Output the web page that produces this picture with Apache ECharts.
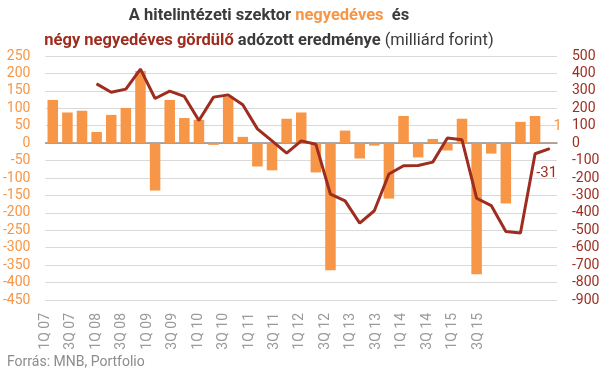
<!DOCTYPE html>
<html>
<head>
<meta charset="utf-8">
<script src="https://cdn.jsdelivr.net/npm/echarts@6/dist/echarts.min.js"></script>
<style>
  html, body { margin: 0; padding: 0; background: #fff; }
  #chart { width: 604px; height: 375px; }
</style>
</head>
<body>
<div id="chart"></div>
<script>
var quarters = ['1Q07','2Q07','3Q07','4Q07','1Q08','2Q08','3Q08','4Q08','1Q09','2Q09','3Q09','4Q09',
  '1Q10','2Q10','3Q10','4Q10','1Q11','2Q11','3Q11','4Q11','1Q12','2Q12','3Q12','4Q12',
  '1Q13','2Q13','3Q13','4Q13','1Q14','2Q14','3Q14','4Q14','1Q15','2Q15','3Q15'];
// negyedéves eredmény (bal tengely)
var quarterly = [124, 88, 93, 32, 81, 101, 207, -136, 124, 72, 67, -5,
  134, 18, -67, -78, 70, 88, -84, -365, 36, -44, -7, -159,
  78, -41, 12, -21, 70, -376, -30, -173, 61, 78, 1];
// négy negyedéves gördülő (jobb tengely)
var rolling = [null, null, null, 340, 292, 310, 425, 256, 298, 268, 130, 264,
  277, 220, 82, 13, -57, 13, -6, -293, -331, -459, -388, -177,
  -130, -128, -109, 30, 19, -316, -358, -507, -516, -61, -31];
var tickLabels = ['1Q 07','3Q 07','1Q 08','3Q 08','1Q 09','3Q 09','1Q 10','3Q 10','1Q 11',
  '3Q 11','1Q 12','3Q 12','1Q 13','3Q 13','1Q 14','3Q 14','1Q 15','3Q 15'];

var orange = '#F79646';
var darkRed = '#9E2D1F';
var font = "Roboto, sans-serif";

var chart = echarts.init(document.getElementById('chart'), null, { renderer: 'canvas' });

var barData = quarterly.map(function (v, i) {
  if (i === quarterly.length - 1) {
    return { value: v, label: { show: true, position: 'top', offset: [8, -4], color: orange, fontSize: 15, fontFamily: font } };
  }
  return v;
});
var lineData = rolling.map(function (v, i) {
  if (i === rolling.length - 1) {
    return { value: v, label: { show: true, position: 'bottom', offset: [-3, 12], color: darkRed, fontSize: 15, fontFamily: font } };
  }
  return v;
});

var option = {
  animation: false,
  title: {
    left: 264,
    textAlign: 'center',
    top: -2,
    text: '{a|A hitelintézeti szektor }{o|negyedéves}{a|  és}\n{r|négy negyedéves gördülő}{a| adózott eredménye}{n| (milliárd forint)}',
    textStyle: {
      rich: {
        a: { fontFamily: font, fontSize: 16.5, fontWeight: 'bold', color: '#3b3b3b', lineHeight: 25 },
        o: { fontFamily: font, fontSize: 16.5, fontWeight: 'bold', color: orange, lineHeight: 25 },
        r: { fontFamily: font, fontSize: 16.5, fontWeight: 'bold', color: darkRed, lineHeight: 25 },
        n: { fontFamily: font, fontSize: 16.5, fontWeight: 'normal', color: '#3b3b3b', lineHeight: 25 }
      }
    }
  },
  graphic: [{
    type: 'text', left: 7, top: 355,
    style: { text: 'Forrás: MNB, Portfolio', fill: '#8c8c8c', font: '14px ' + font }
  }],
  grid: { left: 43, right: 47, top: 56, bottom: 75 },
  xAxis: [{
    type: 'category',
    data: quarters,
    axisLine: { onZero: true, lineStyle: { color: '#8e8e8e', width: 1.5 } },
    axisTick: { show: false },
    axisLabel: { show: false }
  }, {
    // tengelyfeliratok az eredeti elhelyezés szerint
    type: 'value',
    position: 'bottom',
    min: 0,
    max: 20.1,
    interval: 1,
    axisLine: { show: false, onZero: false },
    axisTick: { show: false },
    splitLine: { show: false },
    axisLabel: {
      rotate: 90,
      margin: 13,
      color: '#9a9a9a',
      fontSize: 14,
      fontFamily: font,
      showMaxLabel: false,
      formatter: function (v) {
        return Number.isInteger(v) && v < tickLabels.length ? tickLabels[v] : '';
      }
    }
  }],
  yAxis: [{
    type: 'value',
    min: -450, max: 250, interval: 50,
    axisLine: { show: false },
    axisTick: { show: false },
    splitLine: { lineStyle: { color: '#d9d9d9', width: 1 } },
    axisLabel: { color: orange, fontSize: 14, fontFamily: font, margin: 15 }
  }, {
    type: 'value',
    min: -900, max: 500, interval: 100,
    axisLine: { show: false },
    axisTick: { show: false },
    splitLine: { show: false },
    axisLabel: { color: darkRed, fontSize: 14, fontFamily: font, margin: 15 }
  }],
  series: [{
    name: 'negyedéves',
    type: 'bar',
    xAxisIndex: 0,
    yAxisIndex: 0,
    barCategoryGap: '28%',
    itemStyle: { color: orange },
    data: barData
  }, {
    name: 'gördülő',
    type: 'line',
    xAxisIndex: 0,
    yAxisIndex: 1,
    symbol: 'circle',
    symbolSize: 1,
    showSymbol: true,
    itemStyle: { color: darkRed },
    lineStyle: { color: darkRed, width: 3 },
    data: lineData
  }]
};
chart.setOption(option);
</script>
</body>
</html>
